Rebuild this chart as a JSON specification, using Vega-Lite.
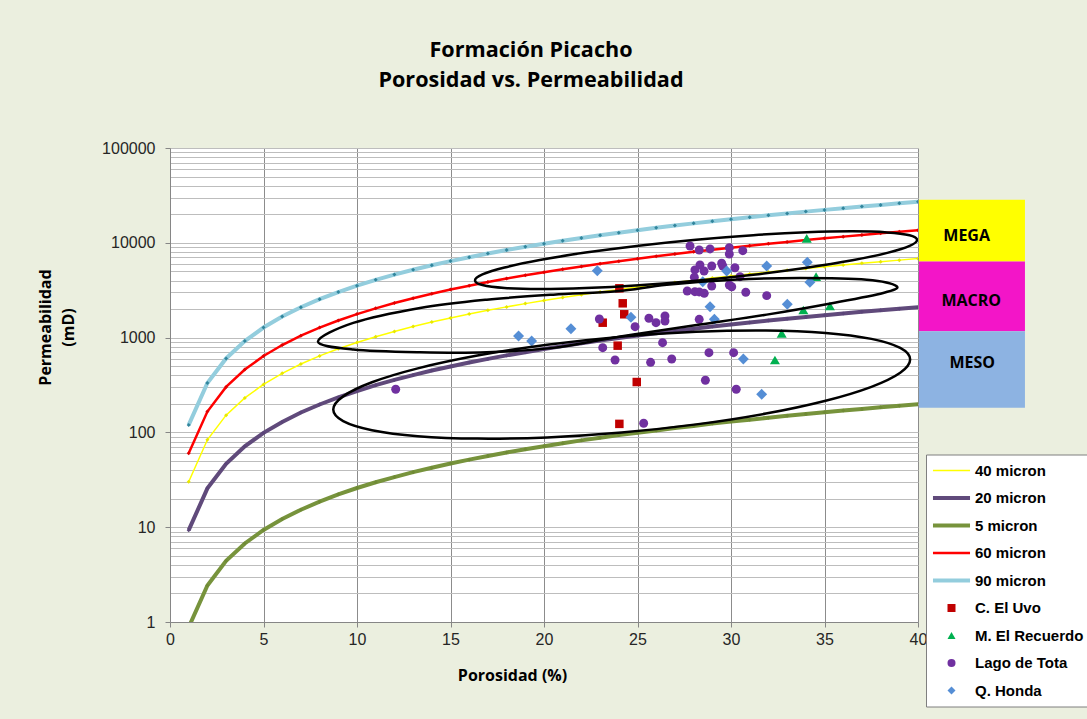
{
  "$schema": "https://vega.github.io/schema/vega-lite/v6.json",
  "width": 748,
  "height": 474,
  "autosize": {"type": "none"},
  "padding": {"left": 170, "top": 148, "right": 169, "bottom": 97},
  "background": "#EBEFDF",
  "title": {
    "text": ["Formación Picacho", "Porosidad vs. Permeabilidad"],
    "anchor": "middle",
    "frame": "group",
    "font": "Open Sans",
    "fontSize": 21.6,
    "fontWeight": "bold",
    "color": "#000000",
    "lineHeight": 30,
    "offset": 48,
    "dx": -13
  },
  "config": {"view": {"stroke": null, "fill": "white"}},
  "resolve": {"scale": {"fill": "independent"}},
  "encoding": {
    "x": {
      "field": "p",
      "type": "quantitative",
      "scale": {"domain": [0, 40], "nice": false, "zero": false},
      "axis": {
        "values": [0, 5, 10, 15, 20, 25, 30, 35, 40],
        "grid": true,
        "gridColor": "#8C8C8C",
        "gridWidth": 1,
        "domainColor": "#868686",
        "tickColor": "#868686",
        "tickSize": 5,
        "labelFont": "Liberation Sans",
        "labelFontSize": 16,
        "labelColor": "#262626",
        "labelPadding": 4,
        "labelFlush": false,
        "labelOverlap": false,
        "title": "Porosidad (%)",
        "titleFont": "Open Sans",
        "titleFontSize": 16,
        "titleFontWeight": "bold",
        "titleColor": "#000000",
        "titleX": 342,
        "titleY": 53,
        "titleAlign": "center",
        "titleBaseline": "middle"
      }
    },
    "y": {
      "field": "k",
      "type": "quantitative",
      "scale": {"type": "log", "domain": [1, 100000], "nice": false},
      "axis": {
        "values": [1, 2, 3, 4, 5, 6, 7, 8, 9, 10, 20, 30, 40, 50, 60, 70, 80, 90, 100, 200, 300, 400, 500, 600, 700, 800, 900, 1000, 2000, 3000, 4000, 5000, 6000, 7000, 8000, 9000, 10000, 20000, 30000, 40000, 50000, 60000, 70000, 80000, 90000, 100000],
        "labelExpr": "indexof([1,10,100,1000,10000,100000], datum.value) >= 0 ? datum.value + '' : ''",
        "grid": true,
        "gridColor": "#BDBDBD",
        "gridWidth": 1,
        "domainColor": "#868686",
        "tickColor": "#868686",
        "tickSize": 5,
        "tickOpacity": {"condition": {"test": "indexof([1,10,100,1000,10000,100000], datum.value) >= 0", "value": 1}, "value": 0},
        "labelFont": "Liberation Sans",
        "labelFontSize": 16,
        "labelColor": "#262626",
        "labelPadding": 10,
        "labelOverlap": false,
        "labelFlush": false,
        "title": ["Permeabilidad", "(mD)"],
        "titleFont": "Open Sans",
        "titleFontSize": 16,
        "titleFontWeight": "bold",
        "titleColor": "#000000",
        "titleX": -125,
        "titleY": 179,
        "titleAngle": -90,
        "titleAlign": "center",
        "titleBaseline": "middle",
        "titleLineHeight": 23
      }
    }
  },
  "layer": [
    {
      "data": {"values": [
        {"z": "MEGA", "p": 40.05, "p2": 45.72, "k": 6368, "k2": 28440},
        {"z": "MACRO", "p": 40.05, "p2": 45.72, "k": 1165, "k2": 6368},
        {"z": "MESO", "p": 40.05, "p2": 45.72, "k": 181.6, "k2": 1165}
      ]},
      "mark": {"type": "rect", "clip": false},
      "encoding": {
        "x2": {"field": "p2"},
        "y2": {"field": "k2"},
        "fill": {"field": "z", "type": "nominal", "scale": {"domain": ["MEGA", "MACRO", "MESO"], "range": ["#FFFF00", "#F315C8", "#8DB3E2"]}, "legend": null}
      }
    },
    {
      "data": {"values": [
        {"z": "MEGA", "p": 42.6, "k": 11880},
        {"z": "MACRO", "p": 42.85, "k": 2455},
        {"z": "MESO", "p": 42.9, "k": 545}
      ]},
      "mark": {"type": "text", "font": "Open Sans", "fontSize": 16, "fontWeight": "bold", "color": "#000000", "clip": false},
      "encoding": {"text": {"field": "z"}}
    },
    {
      "data": {"values": [
        {"p": 1, "40 micron": 30.2, "20 micron": 9.3, "5 micron": 0.88, "60 micron": 60.1, "90 micron": 120},
        {"p": 2, "40 micron": 83.6, "20 micron": 25.7, "5 micron": 2.43, "60 micron": 166, "90 micron": 332},
        {"p": 3, "40 micron": 152, "20 micron": 46.7, "5 micron": 4.41, "60 micron": 302, "90 micron": 603},
        {"p": 4, "40 micron": 231, "20 micron": 71.2, "5 micron": 6.73, "60 micron": 460, "90 micron": 919},
        {"p": 5, "40 micron": 321, "20 micron": 98.8, "5 micron": 9.35, "60 micron": 639, "90 micron": 1277},
        {"p": 6, "40 micron": 420, "20 micron": 129, "5 micron": 12.2, "60 micron": 835, "90 micron": 1668},
        {"p": 7, "40 micron": 526, "20 micron": 162, "5 micron": 15.3, "60 micron": 1048, "90 micron": 2092},
        {"p": 8, "40 micron": 641, "20 micron": 197, "5 micron": 18.6, "60 micron": 1275, "90 micron": 2545},
        {"p": 9, "40 micron": 762, "20 micron": 234, "5 micron": 22.2, "60 micron": 1516, "90 micron": 3026},
        {"p": 10, "40 micron": 889, "20 micron": 273, "5 micron": 25.9, "60 micron": 1769, "90 micron": 3533},
        {"p": 11, "40 micron": 1023, "20 micron": 315, "5 micron": 29.8, "60 micron": 2036, "90 micron": 4064},
        {"p": 12, "40 micron": 1162, "20 micron": 358, "5 micron": 33.8, "60 micron": 2313, "90 micron": 4619},
        {"p": 13, "40 micron": 1307, "20 micron": 402, "5 micron": 38.1, "60 micron": 2602, "90 micron": 5195},
        {"p": 14, "40 micron": 1458, "20 micron": 449, "5 micron": 42.4, "60 micron": 2902, "90 micron": 5794},
        {"p": 15, "40 micron": 1613, "20 micron": 496, "5 micron": 47.0, "60 micron": 3210, "90 micron": 6410},
        {"p": 16, "40 micron": 1774, "20 micron": 546, "5 micron": 51.6, "60 micron": 3530, "90 micron": 7049},
        {"p": 17, "40 micron": 1939, "20 micron": 596, "5 micron": 56.4, "60 micron": 3858, "90 micron": 7704},
        {"p": 18, "40 micron": 2109, "20 micron": 649, "5 micron": 61.4, "60 micron": 4197, "90 micron": 8380},
        {"p": 19, "40 micron": 2283, "20 micron": 702, "5 micron": 66.4, "60 micron": 4542, "90 micron": 9070},
        {"p": 20, "40 micron": 2462, "20 micron": 757, "5 micron": 71.6, "60 micron": 4899, "90 micron": 9781},
        {"p": 21, "40 micron": 2644, "20 micron": 813, "5 micron": 77.0, "60 micron": 5262, "90 micron": 10507},
        {"p": 22, "40 micron": 2832, "20 micron": 871, "5 micron": 82.4, "60 micron": 5635, "90 micron": 11251},
        {"p": 23, "40 micron": 3023, "20 micron": 930, "5 micron": 88.0, "60 micron": 6016, "90 micron": 12012},
        {"p": 24, "40 micron": 3216, "20 micron": 989, "5 micron": 93.6, "60 micron": 6401, "90 micron": 12780},
        {"p": 25, "40 micron": 3416, "20 micron": 1051, "5 micron": 99.4, "60 micron": 6797, "90 micron": 13572},
        {"p": 26, "40 micron": 3618, "20 micron": 1113, "5 micron": 105, "60 micron": 7200, "90 micron": 14376},
        {"p": 27, "40 micron": 3823, "20 micron": 1176, "5 micron": 111, "60 micron": 7609, "90 micron": 15192},
        {"p": 28, "40 micron": 4035, "20 micron": 1241, "5 micron": 117, "60 micron": 8029, "90 micron": 16032},
        {"p": 29, "40 micron": 4249, "20 micron": 1307, "5 micron": 124, "60 micron": 8456, "90 micron": 16884},
        {"p": 30, "40 micron": 4467, "20 micron": 1374, "5 micron": 130, "60 micron": 8889, "90 micron": 17748},
        {"p": 31, "40 micron": 4687, "20 micron": 1442, "5 micron": 136, "60 micron": 9328, "90 micron": 18624},
        {"p": 32, "40 micron": 4911, "20 micron": 1511, "5 micron": 143, "60 micron": 9772, "90 micron": 19512},
        {"p": 33, "40 micron": 5137, "20 micron": 1580, "5 micron": 150, "60 micron": 10223, "90 micron": 20412},
        {"p": 34, "40 micron": 5367, "20 micron": 1651, "5 micron": 156, "60 micron": 10680, "90 micron": 21324},
        {"p": 35, "40 micron": 5599, "20 micron": 1722, "5 micron": 163, "60 micron": 11143, "90 micron": 22248},
        {"p": 36, "40 micron": 5838, "20 micron": 1796, "5 micron": 170, "60 micron": 11617, "90 micron": 23196},
        {"p": 37, "40 micron": 6076, "20 micron": 1869, "5 micron": 177, "60 micron": 12092, "90 micron": 24144},
        {"p": 38, "40 micron": 6321, "20 micron": 1944, "5 micron": 184, "60 micron": 12579, "90 micron": 25116},
        {"p": 39, "40 micron": 6565, "20 micron": 2020, "5 micron": 191, "60 micron": 13066, "90 micron": 26088},
        {"p": 40, "40 micron": 6813, "20 micron": 2096, "5 micron": 198, "60 micron": 13559, "90 micron": 27072}
      ]},
      "transform": [{"fold": ["40 micron", "20 micron", "5 micron", "60 micron", "90 micron"], "as": ["series", "k"]}],
      "layer": [
        {
          "mark": {"type": "line", "clip": true},
          "encoding": {
            "stroke": {
              "field": "series", "type": "nominal",
              "scale": {"domain": ["40 micron", "20 micron", "5 micron", "60 micron", "90 micron"], "range": ["#FFFF00", "#604A7B", "#77933C", "#FF0000", "#93CDDD"]},
              "legend": null
            },
            "strokeWidth": {
              "field": "series", "type": "nominal",
              "scale": {"type": "ordinal", "domain": ["40 micron", "20 micron", "5 micron", "60 micron", "90 micron"], "range": [1.5, 4, 4, 2.5, 4]},
              "legend": null
            }
          }
        },
        {
          "mark": {"type": "point", "shape": "diamond", "filled": true, "size": 16, "opacity": 1, "strokeWidth": 0, "clip": true},
          "encoding": {
            "fill": {
              "field": "series", "type": "nominal",
              "scale": {"domain": ["40 micron", "20 micron", "5 micron", "60 micron", "90 micron"], "range": ["#E8E800", "#5A4478", "#6F8A35", "#E00000", "#31859C"]},
              "legend": null
            }
          }
        }
      ]
    },
    {
      "data": {"values": [
        {"series": "C. El Uvo", "p": 24.03, "k": 3311},
        {"series": "C. El Uvo", "p": 24.21, "k": 2300},
        {"series": "C. El Uvo", "p": 24.29, "k": 1762},
        {"series": "C. El Uvo", "p": 23.14, "k": 1436},
        {"series": "C. El Uvo", "p": 23.94, "k": 822},
        {"series": "C. El Uvo", "p": 24.96, "k": 340},
        {"series": "C. El Uvo", "p": 24.03, "k": 123},
        {"series": "M. El Recuerdo", "p": 34.05, "k": 11150},
        {"series": "M. El Recuerdo", "p": 34.55, "k": 4393},
        {"series": "M. El Recuerdo", "p": 33.87, "k": 1955},
        {"series": "M. El Recuerdo", "p": 35.29, "k": 2153},
        {"series": "M. El Recuerdo", "p": 32.71, "k": 1110},
        {"series": "M. El Recuerdo", "p": 32.35, "k": 580},
        {"series": "Lago de Tota", "p": 27.81, "k": 9250},
        {"series": "Lago de Tota", "p": 28.30, "k": 8400},
        {"series": "Lago de Tota", "p": 28.88, "k": 8610},
        {"series": "Lago de Tota", "p": 29.91, "k": 8880},
        {"series": "Lago de Tota", "p": 29.91, "k": 7620},
        {"series": "Lago de Tota", "p": 30.63, "k": 8260},
        {"series": "Lago de Tota", "p": 28.34, "k": 5830},
        {"series": "Lago de Tota", "p": 28.07, "k": 5170},
        {"series": "Lago de Tota", "p": 28.56, "k": 5040},
        {"series": "Lago de Tota", "p": 28.97, "k": 5690},
        {"series": "Lago de Tota", "p": 29.50, "k": 6080},
        {"series": "Lago de Tota", "p": 29.56, "k": 5690},
        {"series": "Lago de Tota", "p": 30.21, "k": 5460},
        {"series": "Lago de Tota", "p": 28.04, "k": 4330},
        {"series": "Lago de Tota", "p": 30.48, "k": 4390},
        {"series": "Lago de Tota", "p": 28.97, "k": 3500},
        {"series": "Lago de Tota", "p": 29.91, "k": 3590},
        {"series": "Lago de Tota", "p": 30.04, "k": 3440},
        {"series": "Lago de Tota", "p": 27.66, "k": 3100},
        {"series": "Lago de Tota", "p": 28.07, "k": 3050},
        {"series": "Lago de Tota", "p": 28.30, "k": 3030},
        {"series": "Lago de Tota", "p": 28.57, "k": 2930},
        {"series": "Lago de Tota", "p": 30.79, "k": 3010},
        {"series": "Lago de Tota", "p": 31.91, "k": 2770},
        {"series": "Lago de Tota", "p": 22.96, "k": 1571},
        {"series": "Lago de Tota", "p": 25.61, "k": 1600},
        {"series": "Lago de Tota", "p": 25.99, "k": 1436},
        {"series": "Lago de Tota", "p": 26.47, "k": 1690},
        {"series": "Lago de Tota", "p": 26.47, "k": 1497},
        {"series": "Lago de Tota", "p": 24.87, "k": 1303},
        {"series": "Lago de Tota", "p": 28.30, "k": 1560},
        {"series": "Lago de Tota", "p": 23.14, "k": 783},
        {"series": "Lago de Tota", "p": 23.80, "k": 580},
        {"series": "Lago de Tota", "p": 26.34, "k": 884},
        {"series": "Lago de Tota", "p": 25.70, "k": 549},
        {"series": "Lago de Tota", "p": 26.83, "k": 595},
        {"series": "Lago de Tota", "p": 28.82, "k": 693},
        {"series": "Lago de Tota", "p": 30.14, "k": 693},
        {"series": "Lago de Tota", "p": 28.63, "k": 355},
        {"series": "Lago de Tota", "p": 30.28, "k": 285},
        {"series": "Lago de Tota", "p": 25.33, "k": 125},
        {"series": "Lago de Tota", "p": 12.07, "k": 285},
        {"series": "Q. Honda", "p": 22.85, "k": 5080},
        {"series": "Q. Honda", "p": 29.77, "k": 5040},
        {"series": "Q. Honda", "p": 31.91, "k": 5690},
        {"series": "Q. Honda", "p": 34.08, "k": 6230},
        {"series": "Q. Honda", "p": 34.22, "k": 3830},
        {"series": "Q. Honda", "p": 28.49, "k": 3890},
        {"series": "Q. Honda", "p": 33.01, "k": 2245},
        {"series": "Q. Honda", "p": 28.88, "k": 2120},
        {"series": "Q. Honda", "p": 24.65, "k": 1637},
        {"series": "Q. Honda", "p": 29.11, "k": 1560},
        {"series": "Q. Honda", "p": 30.66, "k": 595},
        {"series": "Q. Honda", "p": 31.64, "k": 252},
        {"series": "Q. Honda", "p": 18.64, "k": 1040},
        {"series": "Q. Honda", "p": 19.34, "k": 921},
        {"series": "Q. Honda", "p": 21.44, "k": 1242}
      ]},
      "mark": {"type": "point", "filled": true, "opacity": 1, "strokeWidth": 0},
      "encoding": {
        "size": {
          "field": "series", "type": "nominal",
          "scale": {"type": "ordinal", "domain": ["C. El Uvo", "M. El Recuerdo", "Lago de Tota", "Q. Honda"], "range": [72, 100, 80, 120]},
          "legend": null
        },
        "color": {
          "field": "series", "type": "nominal",
          "scale": {
            "domain": ["40 micron", "20 micron", "5 micron", "60 micron", "90 micron", "C. El Uvo", "M. El Recuerdo", "Lago de Tota", "Q. Honda"],
            "range": ["#FFFF00", "#604A7B", "#77933C", "#FF0000", "#93CDDD", "#C00000", "#00B050", "#7030A0", "#558ED5"]
          },
          "legend": {
            "orient": "none", "legendX": 756, "legendY": 306.5, "title": null,
            "fillColor": "white", "strokeColor": "#7F7F7F", "padding": 4,
            "symbolSize": 64, "symbolStrokeWidth": 0, "symbolOffset": 14, "labelOffset": 16,
            "clipHeight": 24, "rowPadding": 3.5,
            "labelFont": "Liberation Sans", "labelFontSize": 15, "labelFontWeight": "bold",
            "labelColor": "#000000", "labelLimit": 300, "symbolOpacity": 1
          }
        },
        "shape": {
          "field": "series", "type": "nominal",
          "scale": {
            "domain": ["40 micron", "20 micron", "5 micron", "60 micron", "90 micron", "C. El Uvo", "M. El Recuerdo", "Lago de Tota", "Q. Honda"],
            "range": ["M-4.63,-0.19L4.63,-0.19L4.63,0.19L-4.63,0.19Z", "M-4.63,-0.5L4.63,-0.5L4.63,0.5L-4.63,0.5Z", "M-4.63,-0.5L4.63,-0.5L4.63,0.5L-4.63,0.5Z", "M-4.63,-0.31L4.63,-0.31L4.63,0.31L-4.63,0.31Z", "M-4.63,-0.5L4.63,-0.5L4.63,0.5L-4.63,0.5Z", "square", "triangle-up", "circle", "diamond"]
          },
          "legend": {
            "orient": "none", "legendX": 756, "legendY": 306.5, "title": null,
            "fillColor": "white", "strokeColor": "#7F7F7F", "padding": 4,
            "symbolSize": 64, "symbolStrokeWidth": 0, "symbolOffset": 14, "labelOffset": 16,
            "clipHeight": 24, "rowPadding": 3.5,
            "labelFont": "Liberation Sans", "labelFontSize": 15, "labelFontWeight": "bold",
            "labelColor": "#000000", "labelLimit": 300, "symbolOpacity": 1
          }
        }
      }
    },
    {
      "data": {"values": [
        {"e": 1, "o": 1, "p": 39.95, "k": 10730},
        {"e": 1, "o": 2, "p": 39.55, "k": 11995},
        {"e": 1, "o": 3, "p": 38.36, "k": 12870},
        {"e": 1, "o": 4, "p": 36.49, "k": 13200},
        {"e": 1, "o": 5, "p": 34.04, "k": 12900},
        {"e": 1, "o": 6, "p": 31.19, "k": 12040},
        {"e": 1, "o": 7, "p": 28.13, "k": 10780},
        {"e": 1, "o": 8, "p": 25.07, "k": 9333},
        {"e": 1, "o": 9, "p": 22.22, "k": 7882},
        {"e": 1, "o": 10, "p": 19.77, "k": 6580},
        {"e": 1, "o": 11, "p": 17.89, "k": 5488},
        {"e": 1, "o": 12, "p": 16.71, "k": 4634},
        {"e": 1, "o": 13, "p": 16.31, "k": 4006},
        {"e": 1, "o": 14, "p": 16.71, "k": 3583},
        {"e": 1, "o": 15, "p": 17.89, "k": 3337},
        {"e": 1, "o": 16, "p": 19.77, "k": 3255},
        {"e": 1, "o": 17, "p": 22.22, "k": 3332},
        {"e": 1, "o": 18, "p": 25.07, "k": 3570},
        {"e": 1, "o": 19, "p": 28.13, "k": 3987},
        {"e": 1, "o": 20, "p": 31.19, "k": 4606},
        {"e": 1, "o": 21, "p": 34.04, "k": 5453},
        {"e": 1, "o": 22, "p": 36.49, "k": 6533},
        {"e": 1, "o": 23, "p": 38.36, "k": 7831},
        {"e": 1, "o": 24, "p": 39.55, "k": 9276},
        {"e": 2, "o": 1, "p": 7.91, "k": 907},
        {"e": 2, "o": 2, "p": 9.80, "k": 1429},
        {"e": 2, "o": 3, "p": 13.37, "k": 2056},
        {"e": 2, "o": 4, "p": 16.94, "k": 2513},
        {"e": 2, "o": 5, "p": 20.50, "k": 2838},
        {"e": 2, "o": 6, "p": 23.89, "k": 3075},
        {"e": 2, "o": 7, "p": 26.56, "k": 3615},
        {"e": 2, "o": 8, "p": 30.12, "k": 4083},
        {"e": 2, "o": 9, "p": 33.69, "k": 4256},
        {"e": 2, "o": 10, "p": 37.26, "k": 4083},
        {"e": 2, "o": 11, "p": 38.86, "k": 3473},
        {"e": 2, "o": 12, "p": 38.14, "k": 2958},
        {"e": 2, "o": 13, "p": 35.47, "k": 2321},
        {"e": 2, "o": 14, "p": 31.91, "k": 1747},
        {"e": 2, "o": 15, "p": 28.34, "k": 1371},
        {"e": 2, "o": 16, "p": 24.78, "k": 1076},
        {"e": 2, "o": 17, "p": 22.99, "k": 941},
        {"e": 2, "o": 18, "p": 20.50, "k": 779},
        {"e": 2, "o": 19, "p": 16.94, "k": 700},
        {"e": 2, "o": 20, "p": 13.37, "k": 700},
        {"e": 2, "o": 21, "p": 9.80, "k": 748},
        {"e": 3, "o": 1, "p": 39.58, "k": 587.8},
        {"e": 3, "o": 2, "p": 39.05, "k": 778},
        {"e": 3, "o": 3, "p": 37.51, "k": 970},
        {"e": 3, "o": 4, "p": 35.06, "k": 1121},
        {"e": 3, "o": 5, "p": 31.87, "k": 1189},
        {"e": 3, "o": 6, "p": 28.14, "k": 1152},
        {"e": 3, "o": 7, "p": 24.15, "k": 1024},
        {"e": 3, "o": 8, "p": 20.17, "k": 841},
        {"e": 3, "o": 9, "p": 16.44, "k": 646},
        {"e": 3, "o": 10, "p": 13.25, "k": 473.5},
        {"e": 3, "o": 11, "p": 10.80, "k": 337.8},
        {"e": 3, "o": 12, "p": 9.26, "k": 240},
        {"e": 3, "o": 13, "p": 8.73, "k": 173.9},
        {"e": 3, "o": 14, "p": 9.26, "k": 131.4},
        {"e": 3, "o": 15, "p": 10.80, "k": 105.4},
        {"e": 3, "o": 16, "p": 13.25, "k": 91.2},
        {"e": 3, "o": 17, "p": 16.44, "k": 86.0},
        {"e": 3, "o": 18, "p": 20.17, "k": 88.6},
        {"e": 3, "o": 19, "p": 24.15, "k": 99.7},
        {"e": 3, "o": 20, "p": 28.14, "k": 121.5},
        {"e": 3, "o": 21, "p": 31.87, "k": 158.1},
        {"e": 3, "o": 22, "p": 35.06, "k": 215.9},
        {"e": 3, "o": 23, "p": 37.51, "k": 302.7},
        {"e": 3, "o": 24, "p": 39.05, "k": 425.9}
      ]},
      "mark": {"type": "line", "interpolate": "cardinal-closed", "color": "#000000", "strokeWidth": 2.5, "clip": true},
      "encoding": {
        "detail": {"field": "e", "type": "nominal"},
        "order": {"field": "o", "type": "quantitative"}
      }
    }
  ]
}
